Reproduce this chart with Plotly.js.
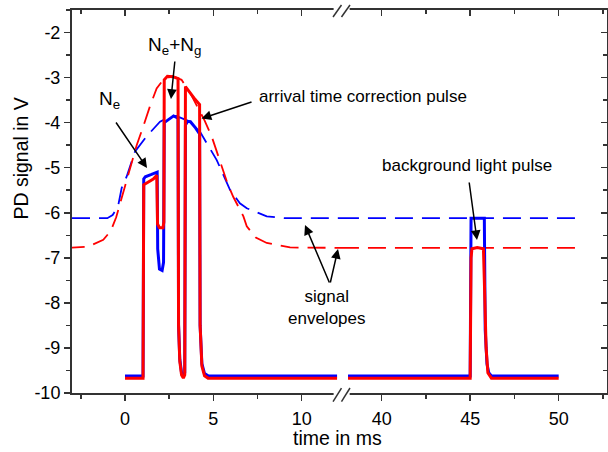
<!DOCTYPE html>
<html>
<head>
<meta charset="utf-8">
<script src="https://cdn.plot.ly/plotly-3.0.1.min.js"></script>
<style>html,body{margin:0;padding:0;background:#fff;}#chart{width:608px;height:452px;}</style>
</head>
<body>
<div id="chart"></div>
<script>
// ---- data: early window (0 .. 12 ms) ----
const tBlueA = [0, 1.02, 1.06, 1.15, 1.5, 1.82, 1.85, 1.95, 2.1, 2.18, 2.22, 2.4, 2.6, 2.75, 3.0, 3.03, 3.1, 3.2, 3.3, 3.38, 3.42, 3.55, 3.7, 4.0, 4.22, 4.25, 4.35, 4.5, 4.7, 12.0];
const vBlueA = [-9.62, -9.62, -5.25, -5.2, -5.15, -5.1, -6.8, -7.25, -7.28, -7.1, -4.0, -3.95, -3.88, -3.85, -3.9, -8.5, -9.25, -9.55, -9.62, -9.55, -4.05, -3.97, -3.98, -4.12, -4.25, -8.5, -9.35, -9.57, -9.62, -9.62];
const tRedA = [0, 1.02, 1.06, 1.3, 1.6, 1.8, 1.84, 1.95, 2.15, 2.2, 2.22, 2.4, 2.7, 3.0, 3.03, 3.1, 3.2, 3.3, 3.38, 3.42, 3.6, 3.9, 4.22, 4.25, 4.35, 4.5, 4.7, 12.0];
const vRedA = [-9.67, -9.67, -5.38, -5.32, -5.25, -5.17, -6.25, -6.33, -6.33, -6.2, -3.05, -2.97, -2.98, -3.02, -8.5, -9.3, -9.6, -9.67, -9.6, -3.2, -3.3, -3.45, -3.6, -8.5, -9.4, -9.62, -9.67, -9.67];
// ---- data: late window (38 .. 50 ms) ----
const tBlueB = [38.1, 45.0, 45.05, 45.8, 45.85, 45.95, 46.05, 46.2, 50.0];
const vBlueB = [-9.62, -9.62, -6.12, -6.12, -8.6, -9.35, -9.55, -9.62, -9.62];
const tRedB = [38.1, 45.0, 45.05, 45.1, 45.4, 45.75, 45.8, 45.9, 46.0, 46.2, 50.0];
const vRedB = [-9.67, -9.67, -7.0, -6.8, -6.77, -6.8, -7.5, -9.0, -9.55, -9.67, -9.67];
// ---- signal envelopes ----
const tEnvBlueA = [-3.0, -1.0, -0.7, -0.4, -0.19, 0.09, 0.57, 1.23, 1.98, 2.55, 2.9, 3.5, 4.24, 4.81, 5.19, 5.94, 6.5, 6.89, 8.02, 9.0, 12.3];
const vEnvBlueA = [-6.12, -6.12, -6.05, -5.87, -5.45, -5.2, -4.64, -4.3, -3.98, -3.87, -3.85, -3.95, -4.2, -4.57, -4.83, -5.49, -5.79, -5.9, -6.08, -6.12, -6.12];
const tEnvRedA = [-3.3, -2.07, -1.23, -0.8, -0.5, -0.1, 0.28, 0.66, 1.03, 1.4, 1.79, 2.2, 2.7, 3.2, 3.7, 4.2, 4.5, 4.9, 5.37, 5.8, 6.13, 6.7, 6.89, 7.4, 8.02, 9.34, 12.3];
const vEnvRedA = [-6.78, -6.75, -6.6, -6.4, -6.1, -5.53, -4.98, -4.5, -4.09, -3.65, -3.24, -3.03, -2.97, -3.05, -3.35, -3.72, -3.95, -4.3, -4.85, -5.35, -5.65, -6.08, -6.3, -6.55, -6.67, -6.77, -6.78];
const tEnvB = [37.7, 51.4];
const vEnvBlueB = [-6.12, -6.12];
const vEnvRedB = [-6.78, -6.78];
// ---- axes / tick labels ----
const rangeA = [-3.0, 12.28];
const rangeB = [37.76, 52.73];
const rangeY = [-10, -1.5];
const yTickVals = [-10, -9, -8, -7, -6, -5, -4, -3, -2];
const yTickText = ['-10', '-9', '-8', '-7', '-6', '-5', '-4', '-3', '-2'];

const BLUE = 'rgb(0,0,255)', RED = 'rgb(255,0,0)', AX = '#333333';
const FONT = 'Liberation Sans, Arial, sans-serif';
const envLine = c => ({color: c, width: 1.8, dash: '18px,9px'});
const sigLine = c => ({color: c, width: 3});

const traces = [
  {x: tEnvBlueA, y: vEnvBlueA, xaxis: 'x', yaxis: 'y', mode: 'lines', line: envLine(BLUE)},
  {x: tEnvRedA, y: vEnvRedA, xaxis: 'x', yaxis: 'y', mode: 'lines', line: envLine(RED)},
  {x: tEnvB, y: vEnvBlueB, xaxis: 'x2', yaxis: 'y', mode: 'lines', line: envLine(BLUE)},
  {x: tEnvB, y: vEnvRedB, xaxis: 'x2', yaxis: 'y', mode: 'lines', line: envLine(RED)},
  {x: tBlueA, y: vBlueA, xaxis: 'x', yaxis: 'y', mode: 'lines', line: sigLine(BLUE)},
  {x: tBlueB, y: vBlueB, xaxis: 'x2', yaxis: 'y', mode: 'lines', line: sigLine(BLUE)},
  {x: tRedA, y: vRedA, xaxis: 'x', yaxis: 'y', mode: 'lines', line: sigLine(RED)},
  {x: tRedB, y: vRedB, xaxis: 'x2', yaxis: 'y', mode: 'lines', line: sigLine(RED)},
  {x: [], y: [], xaxis: 'x3', yaxis: 'y', mode: 'lines'},
  {x: [], y: [], xaxis: 'x4', yaxis: 'y', mode: 'lines'},
  {x: [], y: [], xaxis: 'x2', yaxis: 'y2', mode: 'lines'}
];

const split = 0.5047;
const common = {showgrid: false, zeroline: false, showline: true, linecolor: AX, linewidth: 2,
  tickcolor: AX, tickwidth: 1.5, ticklen: 6, tickfont: {family: FONT, size: 18, color: '#000'}};
const xMajor = {tickmode: 'linear', tick0: 0, dtick: 5};
const xMinor = t => ({dtick: 2.5, tick0: 0, ticklen: 4, ticks: t, tickcolor: AX, tickwidth: 1.5});
const yMinor = t => ({tickmode: 'linear', dtick: 0.5, tick0: 0, ticklen: 4, ticks: t, tickcolor: AX, tickwidth: 1.5});

const layout = {
  width: 608, height: 452,
  margin: {l: 72, r: 1, t: 10, b: 59},
  paper_bgcolor: '#fff', plot_bgcolor: '#fff',
  showlegend: false,
  font: {family: FONT, color: '#000'},
  xaxis: Object.assign({}, common, xMajor, {domain: [0, split], range: rangeA, ticks: 'outside', anchor: 'y', ticklabelstandoff: 2, minor: xMinor('outside')}),
  xaxis2: Object.assign({}, common, xMajor, {domain: [split, 1], range: rangeB, ticks: 'outside', anchor: 'y', ticklabelstandoff: 2, minor: xMinor('outside')}),
  xaxis3: Object.assign({}, common, xMajor, {overlaying: 'x', side: 'top', anchor: 'y', range: rangeA, ticks: 'inside', showticklabels: false, minor: xMinor('inside')}),
  xaxis4: Object.assign({}, common, xMajor, {overlaying: 'x2', side: 'top', anchor: 'y', range: rangeB, ticks: 'inside', showticklabels: false, minor: xMinor('inside')}),
  yaxis: Object.assign({}, common, {range: rangeY, tickmode: 'array', tickvals: yTickVals, ticktext: yTickText, ticks: 'outside', anchor: 'x',
    minor: yMinor('outside')}),
  yaxis2: Object.assign({}, common, {overlaying: 'y', side: 'right', anchor: 'x2', range: rangeY, tickmode: 'array', tickvals: yTickVals, ticktext: yTickText, ticks: 'inside', showticklabels: false,
    minor: yMinor('inside')}),
  shapes: [
    {type: 'rect', xref: 'paper', yref: 'paper', x0: 0.489, x1: 0.519, y0: -0.009, y1: 0.009, fillcolor: '#fff', line: {width: 0}, layer: 'above'},
    {type: 'rect', xref: 'paper', yref: 'paper', x0: 0.489, x1: 0.519, y0: 0.991, y1: 1.009, fillcolor: '#fff', line: {width: 0}, layer: 'above'},
    {type: 'line', xref: 'paper', yref: 'paper', x0: 0.4879, x1: 0.5037, y0: -0.0227, y1: 0.013, line: {color: AX, width: 1.5}, layer: 'above'},
    {type: 'line', xref: 'paper', yref: 'paper', x0: 0.5037, x1: 0.5196, y0: -0.0227, y1: 0.013, line: {color: AX, width: 1.5}, layer: 'above'},
    {type: 'line', xref: 'paper', yref: 'paper', x0: 0.4879, x1: 0.5037, y0: 0.9817, y1: 1.013, line: {color: AX, width: 1.5}, layer: 'above'},
    {type: 'line', xref: 'paper', yref: 'paper', x0: 0.5037, x1: 0.5196, y0: 0.9817, y1: 1.013, line: {color: AX, width: 1.5}, layer: 'above'}
  ],
  annotations: [
    // axis titles
    {text: 'time in ms', xref: 'paper', yref: 'paper', x: 0.4963, y: -0.1175, showarrow: false, xanchor: 'center', yanchor: 'middle', font: {size: 19.5, family: FONT}},
    {text: 'PD signal in V', xref: 'paper', yref: 'paper', x: -0.0953, y: 0.612, showarrow: false, textangle: -90, xanchor: 'center', yanchor: 'middle', font: {size: 19.5, family: FONT}},
    // labels
    {text: 'N<sub>e</sub>', xref: 'paper', yref: 'paper', x: 0.071, y: 0.765, showarrow: false, xanchor: 'center', yanchor: 'middle', font: {size: 19, family: FONT}},
    {text: 'N<sub>e</sub>+N<sub>g</sub>', xref: 'paper', yref: 'paper', x: 0.191, y: 0.905, showarrow: false, xanchor: 'center', yanchor: 'middle', font: {size: 19, family: FONT}},
    {text: 'arrival time correction pulse', xref: 'paper', yref: 'paper', x: 0.5445, y: 0.773, showarrow: false, xanchor: 'center', yanchor: 'middle', font: {size: 17, family: FONT}},
    {text: 'background light pulse', xref: 'paper', yref: 'paper', x: 0.738, y: 0.593, showarrow: false, xanchor: 'center', yanchor: 'middle', font: {size: 17, family: FONT}},
    {text: 'signal<br>envelopes', xref: 'paper', yref: 'paper', x: 0.4766, y: 0.222, showarrow: false, xanchor: 'center', yanchor: 'middle', font: {size: 17, family: FONT}},
    // arrows
    {text: '', xref: 'paper', yref: 'paper', x: 0.1402, y: 0.5875, ax: -32, ay: -47, showarrow: true, arrowhead: 2, arrowsize: 1.3, arrowwidth: 1.5, arrowcolor: '#000', standoff: 0},
    {text: '', xref: 'paper', yref: 'paper', x: 0.185, y: 0.7676, ax: 4, ay: -39, showarrow: true, arrowhead: 2, arrowsize: 1.3, arrowwidth: 1.5, arrowcolor: '#000', standoff: 0},
    {text: '', xref: 'paper', yref: 'paper', x: 0.2421, y: 0.7167, ax: 51.5, ay: -17, showarrow: true, arrowhead: 2, arrowsize: 1.3, arrowwidth: 1.5, arrowcolor: '#000', standoff: 0},
    {text: '', xref: 'paper', yref: 'paper', x: 0.4355, y: 0.4386, ax: 25, ay: 59, showarrow: true, arrowhead: 2, arrowsize: 1.3, arrowwidth: 1.5, arrowcolor: '#000', standoff: 0},
    {text: '', xref: 'paper', yref: 'paper', x: 0.4972, y: 0.376, ax: -8, ay: 35, showarrow: true, arrowhead: 2, arrowsize: 1.3, arrowwidth: 1.5, arrowcolor: '#000', standoff: 0},
    {text: '', xref: 'paper', yref: 'paper', x: 0.757, y: 0.3995, ax: -8, ay: -59, showarrow: true, arrowhead: 2, arrowsize: 1.3, arrowwidth: 1.5, arrowcolor: '#000', standoff: 0}
  ]
};

Plotly.newPlot('chart', traces, layout, {staticPlot: true, displayModeBar: false});
</script>
</body>
</html>
